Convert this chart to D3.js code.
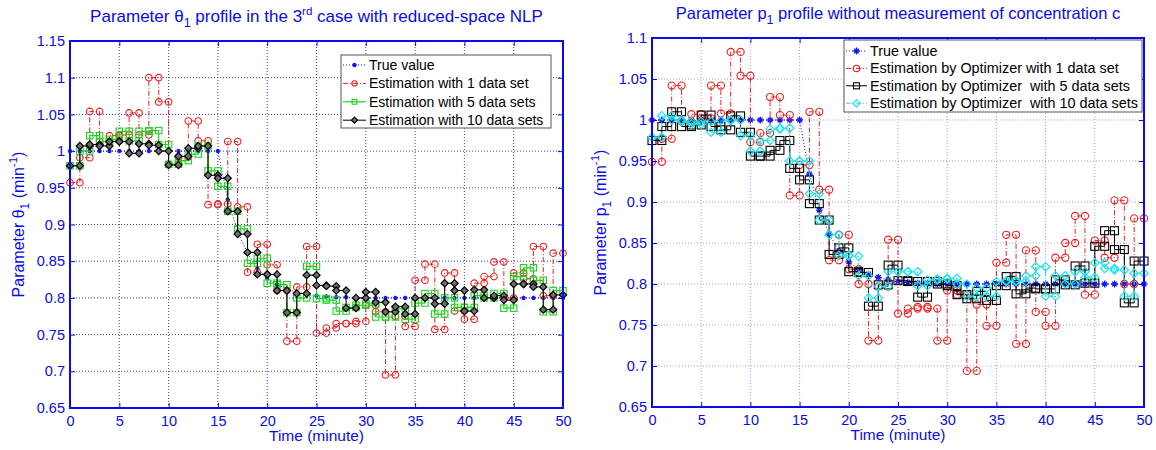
<!DOCTYPE html>
<html>
<head>
<meta charset="utf-8">
<script src="https://cdnjs.cloudflare.com/ajax/libs/d3/7.8.5/d3.min.js"></script>
<style>
  body { margin: 0; background: #fff; }
  text { font-family: "Liberation Sans", Arial, sans-serif; }
</style>
</head>
<body>
<svg id="chart" width="1156" height="450"></svg>
<script>
// ---- data ---------------------------------------------------------------
const xTicks = [0, 5, 10, 15, 20, 25, 30, 35, 40, 45, 50];
const thetaTicks = [0.65, 0.7, 0.75, 0.8, 0.85, 0.9, 0.95, 1, 1.05, 1.1, 1.15];
const p1Ticks = [0.65, 0.7, 0.75, 0.8, 0.85, 0.9, 0.95, 1, 1.05, 1.1];

// true parameter value at every minute, t = 0..50
const trueProfile = [
  1, 1, 1, 1, 1, 1, 1, 1, 1, 1, 1, 1, 1, 1, 1, 1,
  0.934, 0.89, 0.861, 0.84, 0.827, 0.818, 0.812, 0.808, 0.805, 0.803,
  0.802, 0.801, 0.801, 0.8, 0.8, 0.8, 0.8, 0.8, 0.8, 0.8, 0.8, 0.8,
  0.8, 0.8, 0.8, 0.8, 0.8, 0.8, 0.8, 0.8, 0.8, 0.8, 0.8, 0.8, 0.8
];

// piecewise-constant estimates, one value per minute interval [k, k+1]
const theta1Set1 = [
  0.957, 0.991, 1.054, 1.013, 1.021, 1.022, 1.052, 1.022, 1.100, 1.067,
  0.982, 0.992, 1.041, 1.014, 0.927, 0.928, 1.013, 0.924, 0.835, 0.873,
  0.845, 0.810, 0.741, 0.815, 0.870, 0.752, 0.759, 0.765, 0.765, 0.768,
  0.790, 0.781, 0.695, 0.775, 0.761, 0.824, 0.846, 0.757, 0.834, 0.782,
  0.771, 0.820, 0.829, 0.849, 0.800, 0.834, 0.826, 0.870, 0.803, 0.861
];
const theta1Set5 = [
  0.980, 1.000, 1.021, 1.013, 1.016, 1.027, 1.014, 1.027, 1.028, 1.009,
  0.982, 0.987, 0.996, 1.007, 0.973, 0.952, 0.918, 0.894, 0.847, 0.854,
  0.820, 0.818, 0.780, 0.800, 0.843, 0.799, 0.797, 0.782, 0.787, 0.790,
  0.792, 0.774, 0.774, 0.785, 0.771, 0.793, 0.806, 0.778, 0.800, 0.787,
  0.787, 0.803, 0.800, 0.806, 0.786, 0.829, 0.841, 0.824, 0.781, 0.810
];
const theta1Set10 = [
  0.980, 1.007, 1.009, 1.007, 1.013, 1.013, 0.997, 1.010, 1.008, 1.000,
  0.981, 0.993, 1.004, 1.007, 0.967, 0.963, 0.918, 0.887, 0.862, 0.832,
  0.832, 0.810, 0.780, 0.806, 0.831, 0.817, 0.816, 0.810, 0.786, 0.800,
  0.808, 0.794, 0.781, 0.788, 0.778, 0.800, 0.800, 0.792, 0.820, 0.810,
  0.782, 0.811, 0.800, 0.803, 0.797, 0.819, 0.819, 0.815, 0.784, 0.804
];

const p1Set1 = [
  0.949, 0.977, 1.042, 0.998, 1.007, 1.002, 1.042, 1.008, 1.083, 1.054,
  0.973, 0.984, 1.028, 1.006, 0.908, 0.945, 1.010, 0.915, 0.829, 0.860,
  0.818, 0.800, 0.731, 0.797, 0.854, 0.764, 0.770, 0.772, 0.770, 0.731,
  0.792, 0.787, 0.694, 0.775, 0.749, 0.826, 0.860, 0.727, 0.841, 0.766,
  0.749, 0.832, 0.850, 0.883, 0.787, 0.853, 0.832, 0.902, 0.800, 0.880
];
const p1Set5 = [
  0.975, 0.992, 1.010, 0.992, 0.994, 1.006, 0.992, 0.988, 1.005, 0.985,
  0.956, 0.956, 0.963, 0.975, 0.941, 0.927, 0.898, 0.878, 0.836, 0.844,
  0.815, 0.814, 0.773, 0.799, 0.823, 0.804, 0.803, 0.784, 0.803, 0.800,
  0.798, 0.787, 0.782, 0.791, 0.780, 0.798, 0.809, 0.788, 0.795, 0.794,
  0.794, 0.805, 0.799, 0.822, 0.801, 0.846, 0.865, 0.842, 0.777, 0.828
];
const p1Set10 = [
  0.979, 1.005, 1.000, 0.998, 0.995, 0.998, 0.985, 0.999, 1.000, 0.981,
  0.962, 0.975, 0.989, 0.990, 0.950, 0.950, 0.910, 0.878, 0.860, 0.835,
  0.834, 0.810, 0.783, 0.797, 0.815, 0.815, 0.815, 0.798, 0.805, 0.806,
  0.807, 0.800, 0.785, 0.795, 0.785, 0.803, 0.804, 0.803, 0.810, 0.821,
  0.785, 0.810, 0.800, 0.815, 0.808, 0.826, 0.819, 0.817, 0.785, 0.813
];

// ---- drawing ------------------------------------------------------------
const svg = d3.select("#chart");
const AXIS_BLUE = "#0a0af0";

// marker shapes
function drawMarker(sel, shape, size, color, fill) {
  if (shape === "circle") {
    sel.append("circle").attr("r", size).attr("fill", fill || "none")
      .attr("stroke", color).attr("stroke-width", 1.1);
  } else if (shape === "square") {
    sel.append("rect").attr("x", -size).attr("y", -size)
      .attr("width", size * 2).attr("height", size * 2)
      .attr("fill", fill || "none").attr("stroke", color).attr("stroke-width", 1.1);
  } else if (shape === "diamond") {
    sel.append("path").attr("d", `M0,${-size}L${size},0L0,${size}L${-size},0Z`)
      .attr("fill", fill || "none").attr("stroke", color).attr("stroke-width", 1.2);
  } else if (shape === "star") {
    const d = size * 0.7;
    sel.append("path")
      .attr("d", `M${-size},0H${size}M0,${-size}V${size}M${-d},${-d}L${d},${d}M${-d},${d}L${d},${-d}`)
      .attr("stroke", color).attr("stroke-width", 1.3);
  }
}

function drawPanel(cfg) {
  const g = svg.append("g");
  const x = d3.scaleLinear().domain([0, 50]).range([cfg.left, cfg.right]);
  const y = d3.scaleLinear().domain([0.65, cfg.yMax]).range([cfg.bottom, cfg.top]);

  // grid
  g.append("g").selectAll("line").data(xTicks.slice(1, -1)).join("line")
    .attr("x1", d => x(d)).attr("x2", d => x(d))
    .attr("y1", cfg.top).attr("y2", cfg.bottom)
    .attr("stroke", cfg.gridColor).attr("stroke-dasharray", "1,2");
  g.append("g").selectAll("line").data(cfg.yTicks.slice(1, -1)).join("line")
    .attr("x1", cfg.left).attr("x2", cfg.right)
    .attr("y1", d => y(d)).attr("y2", d => y(d))
    .attr("stroke", cfg.gridColor).attr("stroke-dasharray", "1,2");

  // series
  cfg.series.forEach(s => {
    const sg = g.append("g");
    if (s.stairs) {
      const pts = s.values.map((v, k) => [k, v]).concat([[s.values.length, s.values[s.values.length - 1]]]);
      const line = d3.line().x(d => x(d[0])).y(d => y(d[1])).curve(d3.curveStepAfter);
      sg.append("path").attr("d", line(pts)).attr("fill", "none")
        .attr("stroke", s.color).attr("stroke-width", s.width || 1)
        .attr("stroke-dasharray", s.dash || null);
      const marks = [];
      s.values.forEach((v, k) => { marks.push([k, v]); marks.push([k + 1, v]); });
      sg.selectAll("g.m").data(marks).join("g").attr("class", "m")
        .attr("transform", d => `translate(${x(d[0])},${y(d[1])})`)
        .each(function () { drawMarker(d3.select(this), s.marker, s.size, s.color, s.fill); });
    } else {
      const pts = s.values.map((v, k) => [k, v]);
      const line = d3.line().x(d => x(d[0])).y(d => y(d[1]));
      sg.append("path").attr("d", line(pts)).attr("fill", "none")
        .attr("stroke", s.color).attr("stroke-width", 1)
        .attr("stroke-dasharray", s.dash || null);
      sg.selectAll("g.m").data(pts).join("g").attr("class", "m")
        .attr("transform", d => `translate(${x(d[0])},${y(d[1])})`)
        .each(function () { drawMarker(d3.select(this), s.marker, s.size, s.color, s.fill); });
    }
  });

  // axes (ticks point inwards on all four sides)
  const fmt = d => String(d);
  const ax = [
    g.append("g").attr("transform", `translate(0,${cfg.bottom})`)
      .call(d3.axisBottom(x).tickValues(xTicks).tickSize(-5).tickSizeOuter(0).tickPadding(8).tickFormat(fmt)),
    g.append("g").attr("transform", `translate(${cfg.left},0)`)
      .call(d3.axisLeft(y).tickValues(cfg.yTicks).tickSize(-5).tickSizeOuter(0).tickPadding(5).tickFormat(fmt)),
    g.append("g").attr("transform", `translate(0,${cfg.top})`)
      .call(d3.axisTop(x).tickValues(xTicks).tickSize(-5).tickSizeOuter(0).tickFormat("")),
    g.append("g").attr("transform", `translate(${cfg.right},0)`)
      .call(d3.axisRight(y).tickValues(cfg.yTicks).tickSize(-5).tickSizeOuter(0).tickFormat(""))
  ];
  ax.forEach(a => {
    a.select(".domain").remove();
    a.selectAll(".tick line").attr("stroke", AXIS_BLUE);
    a.selectAll(".tick text").attr("fill", AXIS_BLUE).attr("font-size", 14.5)
      .attr("font-family", "'Liberation Sans', Arial, sans-serif");
  });
  g.append("rect").attr("x", cfg.left).attr("y", cfg.top)
    .attr("width", cfg.right - cfg.left).attr("height", cfg.bottom - cfg.top)
    .attr("fill", "none").attr("stroke", AXIS_BLUE).attr("stroke-width", 2);

  // title
  const cx = (cfg.left + cfg.right) / 2;
  const t = g.append("text").attr("x", cx).attr("y", cfg.titleY)
    .attr("text-anchor", "middle").attr("fill", AXIS_BLUE).attr("font-size", cfg.titleSize);
  cfg.title.forEach(p => {
    const ts = t.append("tspan").text(p.t);
    if (p.sub) ts.attr("font-size", 12.5).attr("dy", 5);
    if (p.sup) ts.attr("font-size", 11.5).attr("dy", -7);
    if (p.back) ts.attr("dy", p.back);
  });

  // x label
  g.append("text").attr("x", cx).attr("y", cfg.bottom + 33)
    .attr("text-anchor", "middle").attr("fill", AXIS_BLUE).attr("font-size", 15.5)
    .text("Time (minute)");

  // y label
  const cy = (cfg.top + cfg.bottom) / 2;
  const yl = g.append("text").attr("transform", `translate(${cfg.yLabelX},${cy}) rotate(-90)`)
    .attr("text-anchor", "middle").attr("fill", AXIS_BLUE).attr("font-size", 16);
  cfg.yLabel.forEach(p => {
    const ts = yl.append("tspan").text(p.t);
    if (p.sub) ts.attr("font-size", 12).attr("dy", 5);
    if (p.sup) ts.attr("font-size", 11.5).attr("dy", -7);
    if (p.back) ts.attr("dy", p.back);
  });

  // legend
  const L = cfg.legend;
  const lg = g.append("g");
  lg.append("rect").attr("x", L.x).attr("y", L.y).attr("width", L.w).attr("height", L.h)
    .attr("fill", "#fff").attr("stroke", "#555").attr("stroke-width", 1);
  cfg.series.forEach((s, i) => {
    const yy = L.y + L.first + i * L.step;
    lg.append("line").attr("x1", L.x + 2).attr("x2", L.x + L.sample)
      .attr("y1", yy).attr("y2", yy).attr("stroke", s.color)
      .attr("stroke-width", s.width || 1).attr("stroke-dasharray", s.dash || null);
    drawMarker(lg.append("g").attr("transform", `translate(${L.x + 2 + (L.sample - 2) / 2},${yy})`),
      s.marker, s.legendSize || s.size, s.color, s.fill);
    lg.append("text").attr("x", L.x + L.sample + 3).attr("y", yy + 5)
      .attr("font-size", L.font).attr("fill", "#000").style("white-space", "pre")
      .text(s.label);
  });
}

drawPanel({
  left: 70, right: 563, top: 41, bottom: 408, yMax: 1.15, yTicks: thetaTicks,
  gridColor: "#3c3cd2", titleY: 22, titleSize: 17, yLabelX: 24,
  title: [{ t: "Parameter \u03B8" }, { t: "1", sub: true }, { t: " profile in the 3", back: -5 },
          { t: "rd", sup: true }, { t: " case with reduced-space NLP", back: 7 }],
  yLabel: [{ t: "Parameter \u03B8" }, { t: "1", sub: true }, { t: " (min", back: -5 },
           { t: "-1", sup: true }, { t: ")", back: 7 }],
  legend: { x: 341, y: 55, w: 210, h: 73, first: 10, step: 18.4, sample: 25, font: 14 },
  series: [
    { label: "True value", values: trueProfile, color: "#1414ff", dash: "1,2", marker: "star", size: 2.2, stairs: false },
    { label: "Estimation with 1 data set", values: theta1Set1, color: "#f01e1e", dash: "5,2,1,2", marker: "circle", size: 3.3, legendSize: 2.6, stairs: true },
    { label: "Estimation with 5 data sets", values: theta1Set5, color: "#1ed21e", marker: "square", size: 3.2, legendSize: 2.4, stairs: true, width: 1.2 },
    { label: "Estimation with 10 data sets", values: theta1Set10, color: "#000", fill: "#707070", marker: "diamond", size: 3.6, legendSize: 3, stairs: true }
  ]
});

drawPanel({
  left: 652, right: 1144, top: 38, bottom: 407, yMax: 1.1, yTicks: p1Ticks,
  gridColor: "#a0a0f0", titleY: 19, titleSize: 16.5, yLabelX: 606,
  title: [{ t: "Parameter p" }, { t: "1", sub: true },
          { t: " profile without measurement of concentration c", back: -5 }],
  yLabel: [{ t: "Parameter p" }, { t: "1", sub: true }, { t: " (min", back: -5 },
           { t: "-1", sup: true }, { t: ")", back: 7 }],
  legend: { x: 844, y: 40, w: 298, h: 72, first: 11, step: 17.4, sample: 23, font: 14.4 },
  series: [
    { label: "True value", values: trueProfile, color: "#1414ff", dash: "1,2", marker: "star", size: 3.4, stairs: false },
    { label: "Estimation by Optimizer with 1 data set", values: p1Set1, color: "#f01e1e", dash: "5,2,1,2", marker: "circle", size: 3.6, legendSize: 3.2, stairs: true },
    { label: "Estimation by Optimizer  with 5 data sets", values: p1Set5, color: "#000", marker: "square", size: 4, legendSize: 3, stairs: true },
    { label: "Estimation by Optimizer  with 10 data sets", values: p1Set10, color: "#14e6f0", dash: "5,2,1,2", marker: "diamond", size: 4.2, legendSize: 3.6, stairs: true }
  ]
});
</script>
</body>
</html>
